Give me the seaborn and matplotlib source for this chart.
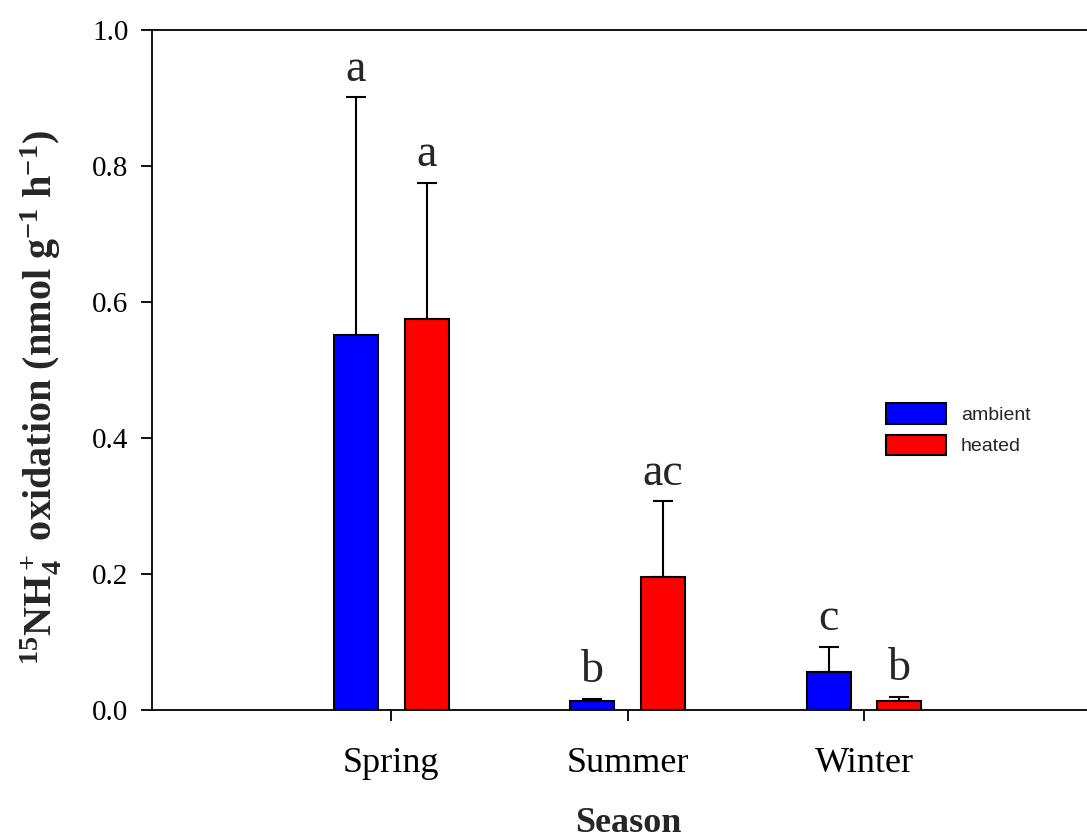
import matplotlib
matplotlib.use("Agg")
import matplotlib.pyplot as plt
import seaborn as sns
import pandas as pd
import numpy as np

seasons = ["Spring", "Summer", "Winter"]
treatments = ["ambient", "heated"]
ambient_mean = [0.551, 0.013, 0.056]
heated_mean = [0.575, 0.196, 0.013]
ambient_err = [0.350, 0.003, 0.037]
heated_err = [0.200, 0.111, 0.006]
ambient_letters = ["a", "b", "c"]
heated_letters = ["a", "ac", "b"]
colors = {"ambient": "#0000ff", "heated": "#ff0000"}

sns.set_style("white")
plt.rcParams["font.family"] = ["Liberation Serif", "DejaVu Serif"]
plt.rcParams["mathtext.fontset"] = "custom"
plt.rcParams["mathtext.rm"] = "Liberation Serif"
plt.rcParams["mathtext.bf"] = "Liberation Serif:bold"
plt.rcParams["mathtext.it"] = "Liberation Serif:italic"

df = pd.DataFrame({
    "Season": seasons * 2,
    "Treatment": ["ambient"] * 3 + ["heated"] * 3,
    "value": ambient_mean + heated_mean,
})
errs = {"ambient": ambient_err, "heated": heated_err}
letters = {"ambient": ambient_letters, "heated": heated_letters}

fig = plt.figure(figsize=(10.87, 8.39), dpi=100)
ax = fig.add_axes([152 / 1087, 1 - 710 / 839, 1 - 152 / 1087, 680 / 839])

sns.barplot(data=df, x="Season", y="value", hue="Treatment", order=seasons,
            hue_order=treatments, palette=colors, saturation=1, errorbar=None,
            width=0.6, gap=0.38, edgecolor="black", linewidth=1.5, ax=ax,
            zorder=3)

for cont, tr in zip(ax.containers, treatments):
    xs = [p.get_x() + p.get_width() / 2 for p in cont.patches]
    hs = [p.get_height() for p in cont.patches]
    e = errs[tr]
    ax.errorbar(xs, hs, yerr=[np.zeros(len(e)), e], fmt="none", ecolor="black",
                elinewidth=1.5, capsize=7, capthick=1.5, zorder=2)
    for x, h, ee, lt in zip(xs, hs, e, letters[tr]):
        ax.annotate(lt, (x, h + ee), xytext=(0, 12), textcoords="offset points",
                    ha="center", va="baseline", fontsize=33)

ax.set_ylim(0, 1.0)
ax.set_xlim(-1.011, 2.943)
ax.set_yticks([0, 0.2, 0.4, 0.6, 0.8, 1.0])
ax.set_yticklabels(["0.0", "0.2", "0.4", "0.6", "0.8", "1.0"])
ax.tick_params(axis="y", direction="out", length=8, width=1.3, pad=9,
               labelsize=21, left=True, colors="black")
ax.tick_params(axis="x", direction="out", length=8, width=1.3, pad=19,
               labelsize=26, bottom=True, colors="black")
for s in ["left", "bottom", "top"]:
    ax.spines[s].set_visible(True)
    ax.spines[s].set_linewidth(1.3)
    ax.spines[s].set_color("black")
ax.spines["right"].set_visible(False)

ax.set_xlabel("Season", fontsize=26, fontweight="bold")
ax.xaxis.set_label_coords(0.509, -0.142)
ax.set_ylabel(r"$\mathbf{^{15}NH_4^+\ oxidation\ (nmol\ g^{-1}\ h^{-1})}$",
              fontsize=29)
ax.yaxis.set_label_coords(-0.095, 0.46)

handles, labels = ax.get_legend_handles_labels()
ax.legend(handles, labels, loc="upper left",
          bbox_to_anchor=(886 / 1087, 1 - 403 / 839),
          bbox_transform=fig.transFigure, frameon=False,
          prop={"family": "Liberation Sans", "size": 14},
          handlelength=3.1, handleheight=1.25, labelspacing=0.55,
          handletextpad=0.75, borderpad=0, borderaxespad=0)

fig.savefig("out.png", dpi=100)
